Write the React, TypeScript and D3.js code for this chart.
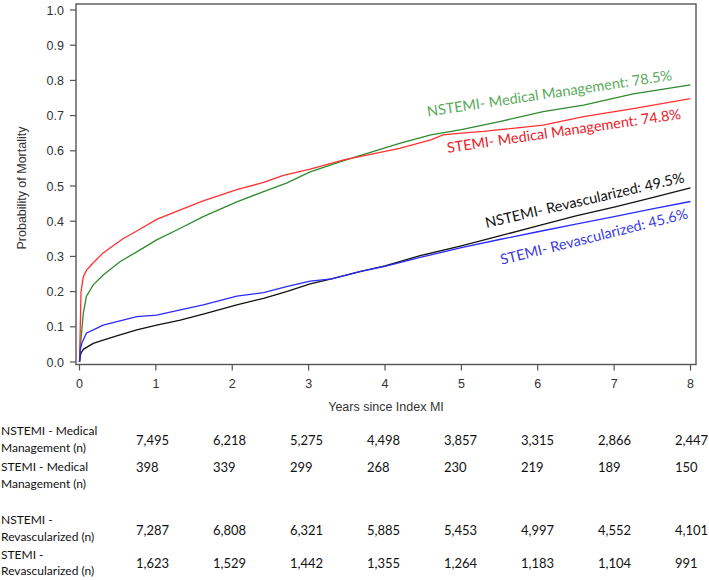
import React from "react";
import * as d3 from "d3";

// ---- data ----
const years = [0, 1, 2, 3, 4, 5, 6, 7, 8];
const yTicks = [0, 0.1, 0.2, 0.3, 0.4, 0.5, 0.6, 0.7, 0.8, 0.9, 1.0];

const nstemiMedT = [0, 0.01, 0.03, 0.05, 0.09, 0.18, 0.31, 0.53, 0.75, 1.01, 1.32, 1.62, 2.06, 2.41, 2.71, 3.02, 3.46, 4.19, 4.6, 5.0, 5.5, 6.07, 6.6, 7.25, 8];
const nstemiMedV = [0, 0.04, 0.09, 0.139, 0.186, 0.219, 0.247, 0.285, 0.313, 0.347, 0.38, 0.413, 0.455, 0.484, 0.508, 0.54, 0.572, 0.621, 0.645, 0.66, 0.683, 0.711, 0.73, 0.762, 0.787];

const stemiMedT = [0, 0.01, 0.02, 0.05, 0.093, 0.18, 0.31, 0.44, 0.57, 0.75, 1.01, 1.32, 1.62, 2.06, 2.41, 2.67, 3.02, 3.46, 4.19, 4.6, 4.76, 5.0, 5.29, 5.6, 6.07, 6.6, 7.25, 8];
const stemiMedV = [0, 0.1, 0.2, 0.242, 0.261, 0.282, 0.31, 0.33, 0.35, 0.372, 0.405, 0.432, 0.458, 0.49, 0.51, 0.53, 0.548, 0.574, 0.607, 0.631, 0.645, 0.65, 0.655, 0.662, 0.673, 0.697, 0.72, 0.748];

const stemiRevT = [0, 0.01, 0.03, 0.09, 0.31, 0.53, 0.75, 1.01, 1.32, 1.62, 2.06, 2.41, 2.71, 3.02, 3.3, 3.67, 4.0, 4.46, 5.0, 5.5, 6.0, 6.5, 7.0, 7.5, 8];
const stemiRevV = [0, 0.035, 0.053, 0.082, 0.105, 0.117, 0.129, 0.133, 0.148, 0.162, 0.187, 0.197, 0.214, 0.23, 0.236, 0.257, 0.272, 0.297, 0.325, 0.348, 0.37, 0.392, 0.413, 0.435, 0.456];

const nstemiRevT = [0, 0.01, 0.02, 0.05, 0.18, 0.31, 0.53, 0.75, 1.01, 1.32, 1.62, 2.06, 2.41, 2.71, 3.02, 3.3, 3.67, 4.0, 4.46, 5.0, 5.5, 6.0, 6.5, 7.0, 7.5, 8];
const nstemiRevV = [0, 0.018, 0.025, 0.036, 0.053, 0.062, 0.077, 0.091, 0.105, 0.119, 0.136, 0.162, 0.181, 0.2, 0.222, 0.236, 0.257, 0.273, 0.302, 0.33, 0.358, 0.387, 0.415, 0.44, 0.467, 0.495];

const rowLabels = [
  ["NSTEMI - Medical", "Management (n)"],
  ["STEMI - Medical", "Management (n)"],
  ["NSTEMI -", "Revascularized (n)"],
  ["STEMI -", "Revascularized (n)"],
];
const atRisk = [
  ["7,495", "6,218", "5,275", "4,498", "3,857", "3,315", "2,866", "2,447"],
  ["398", "339", "299", "268", "230", "219", "189", "150"],
  ["7,287", "6,808", "6,321", "5,885", "5,453", "4,997", "4,552", "4,101"],
  ["1,623", "1,529", "1,442", "1,355", "1,264", "1,183", "1,104", "991"],
];

const seriesNames = [
  "NSTEMI- Medical Management: 78.5%",
  "STEMI- Medical Management: 74.8%",
  "NSTEMI- Revascularized: 49.5%",
  "STEMI- Revascularized: 45.6%",
];

// ---- layout ----
const W = 709, H = 580;
const frame = { x0: 76, x1: 696, y0: 4, y1: 364.5 };
const x = d3.scaleLinear().domain([0, 8]).range([79.5, 690.5]);
const y = d3.scaleLinear().domain([0, 1]).range([362, 10]);

const series = [
  { t: nstemiMedT, v: nstemiMedV, color: "#2e8b2e", text: "#5aaa5a", lab: [4.56, 0.697], rot: -8.5 },
  { t: stemiMedT, v: stemiMedV, color: "#ff3030", text: "#e8222c", lab: [4.82, 0.594], rot: -8.3 },
  { t: nstemiRevT, v: nstemiRevV, color: "#111111", text: "#111111", lab: [5.33, 0.381], rot: -13 },
  { t: stemiRevT, v: stemiRevV, color: "#2a2aff", text: "#3c3ce0", lab: [5.53, 0.276], rot: -14 },
];

const axisFont = "'Liberation Sans', Arial, sans-serif";
const textFont = "Lato, 'Open Sans', sans-serif";

// [label line 1 centre, label line 2 centre, numbers centre]
const rowY = [[431, 448, 440], [467, 484, 467], [520, 537, 530], [555, 571, 563]];
const colX = (i: number) => 136 + 77 * i;

export default function App() {
  const line = d3.line<[number, number]>().x(d => x(d[0])).y(d => y(d[1]));
  return (
    <svg width={W} height={H} style={{ position: "absolute", left: 0, top: 0, background: "#fff" }}>
      {/* frame */}
      <rect x={frame.x0} y={frame.y0} width={frame.x1 - frame.x0} height={frame.y1 - frame.y0}
        fill="none" stroke="#555" strokeWidth={1.4} />
      {/* y ticks */}
      {yTicks.map(v => (
        <g key={"y" + v}>
          <line x1={70} x2={frame.x0} y1={y(v)} y2={y(v)} stroke="#555" strokeWidth={1.2} />
          <text x={64} y={y(v) + 4.5} textAnchor="end" fontFamily={axisFont} fontSize={12.5} fill="#333">
            {v.toFixed(1)}
          </text>
        </g>
      ))}
      {/* x ticks */}
      {years.map(t => (
        <g key={"x" + t}>
          <line x1={x(t)} x2={x(t)} y1={frame.y1} y2={frame.y1 + 6} stroke="#555" strokeWidth={1.2} />
          <text x={x(t)} y={388} textAnchor="middle" fontFamily={axisFont} fontSize={12.5} fill="#333">
            {t}
          </text>
        </g>
      ))}
      <text x={(frame.x0 + frame.x1) / 2} y={411} textAnchor="middle" fontFamily={axisFont} fontSize={12.5} fill="#333">
        Years since Index MI
      </text>
      <text transform={`translate(26,${(y(0) + y(1)) / 2 + 2}) rotate(-90)`} textAnchor="middle"
        fontFamily={axisFont} fontSize={12.5} fill="#333">
        Probability of Mortality
      </text>
      {/* curves */}
      {series.map((s, i) => (
        <path key={"s" + i} d={line(s.t.map((t, j) => [t, s.v[j]]) as [number, number][]) || ""}
          fill="none" stroke={s.color} strokeWidth={1.3} />
      ))}
      {/* labels */}
      {series.map((s, i) => (
        <text key={"l" + i} transform={`translate(${x(s.lab[0])},${y(s.lab[1])}) rotate(${s.rot})`}
          fontFamily={textFont} fontSize={14.5} fill={s.text}>
          {seriesNames[i]}
        </text>
      ))}
      {/* at-risk table */}
      {rowLabels.map((r, i) => (
        <g key={"r" + i}>
          <text x={1} y={rowY[i][0] + 4} fontFamily={textFont} fontSize={12} fill="#111">{r[0]}</text>
          <text x={1} y={rowY[i][1] + 4} fontFamily={textFont} fontSize={12} fill="#111">{r[1]}</text>
          {atRisk[i].map((n, j) => (
            <text key={j} x={colX(j)} y={rowY[i][2] + 4.5} fontFamily={textFont} fontSize={13} fill="#111">{n}</text>
          ))}
        </g>
      ))}
    </svg>
  );
}
